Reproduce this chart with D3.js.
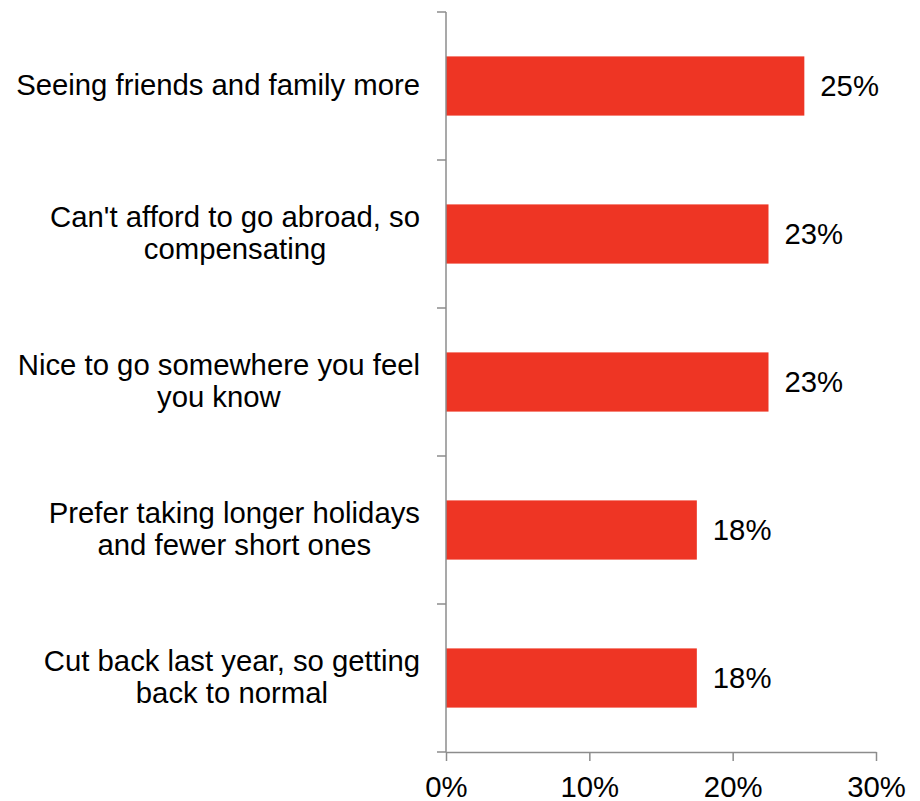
<!DOCTYPE html>
<html>
<head>
<meta charset="utf-8">
<script src="https://cdn.jsdelivr.net/npm/d3@7"></script>
<style>
  html, body { margin: 0; padding: 0; background: #fff; }
  svg { display: block; font-family: "Liberation Sans", Arial, sans-serif; }
</style>
</head>
<body>
<svg id="chart" width="920" height="801"></svg>
<script>
// Reasons given, one label line per array entry
const categories = [
  ["Seeing friends and family more"],
  ["Can't afford to go abroad, so", "compensating"],
  ["Nice to go somewhere you feel", "you know"],
  ["Prefer taking longer holidays", "and fewer short ones"],
  ["Cut back last year, so getting", "back to normal"]
];
// Share of respondents, in percent
const values = [25, 22.5, 22.5, 17.5, 17.5];
const xTicks = [0, 10, 20, 30];

(function () {
  const svg = d3.select("#chart");
  const plotLeft = 446, plotRight = 876, plotTop = 12, plotBottom = 752;
  const fontSize = 29.3;

  const x = d3.scaleLinear().domain([0, 30]).range([plotLeft, plotRight]);
  const y = d3.scaleBand()
    .domain(d3.range(categories.length))
    .range([plotTop, plotBottom])
    .paddingInner(0.6)
    .paddingOuter(0.3);

  const axisColor = "#8c8c8c";

  // bars
  svg.append("g").selectAll("rect")
    .data(values)
    .join("rect")
    .attr("x", x(0))
    .attr("y", (d, i) => y(i))
    .attr("width", d => x(d) - x(0))
    .attr("height", y.bandwidth())
    .attr("fill", "#EE3524");

  // value labels
  svg.append("g").selectAll("text")
    .data(values)
    .join("text")
    .attr("x", d => x(d) + 16)
    .attr("y", (d, i) => y(i) + y.bandwidth() / 2 + 10)
    .attr("font-size", fontSize)
    .attr("fill", "#000")
    .text(d => Math.round(d) + "%");

  // vertical category axis with ticks at band boundaries
  const step = y.step();
  const gy = svg.append("g");
  gy.append("line")
    .attr("x1", plotLeft).attr("x2", plotLeft)
    .attr("y1", plotTop).attr("y2", plotBottom)
    .attr("stroke", axisColor).attr("stroke-width", 1.5);
  gy.selectAll("line.tick")
    .data(d3.range(categories.length + 1))
    .join("line")
    .attr("class", "tick")
    .attr("x1", plotLeft - 9).attr("x2", plotLeft)
    .attr("y1", i => plotTop + i * step).attr("y2", i => plotTop + i * step)
    .attr("stroke", axisColor).attr("stroke-width", 1.5);

  // horizontal value axis
  const gx = svg.append("g")
    .attr("transform", `translate(0,${plotBottom})`)
    .call(d3.axisBottom(x).tickValues(xTicks).tickSize(9).tickSizeOuter(0)
      .tickFormat(d => d + "%"));
  gx.select(".domain").attr("stroke", axisColor).attr("stroke-width", 1.5);
  gx.selectAll(".tick line").attr("stroke", axisColor).attr("stroke-width", 1.5);
  gx.selectAll(".tick text")
    .attr("font-size", fontSize)
    .attr("font-family", "Liberation Sans, Arial, sans-serif")
    .attr("fill", "#000")
    .attr("dy", null)
    .attr("y", 45);

  // category labels: block right-aligned, lines centred within block
  const lineH = 32;
  const labelRight = 420;
  const gl = svg.append("g");
  categories.forEach((lines, i) => {
    const cy = y(i) + y.bandwidth() / 2;
    const t = gl.append("text")
      .attr("font-size", fontSize)
      .attr("fill", "#000")
      .attr("text-anchor", "middle");
    const spans = lines.map((s, k) => t.append("tspan")
      .attr("y", cy + (k - (lines.length - 1) / 2) * lineH + 8.5)
      .text(s));
    const w = d3.max(spans, sp => sp.node().getComputedTextLength());
    spans.forEach(sp => sp.attr("x", labelRight - w / 2));
  });
})();
</script>
</body>
</html>
